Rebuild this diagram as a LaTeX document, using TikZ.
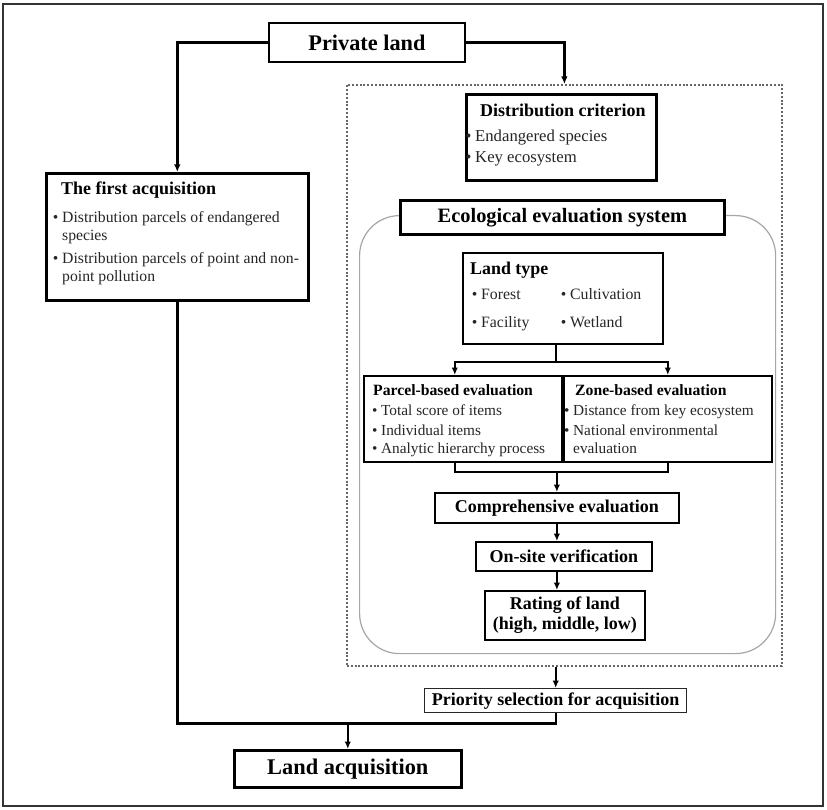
\documentclass[tikz,border=0pt]{standalone}
\usepackage{fontspec}
\setmainfont{Liberation Serif}
\usetikzlibrary{arrows.meta,calc}
\newcommand\fs[1]{\fontsize{#1}{#1}\selectfont}
\newcommand\bul{\llap{\textbullet\hspace{3.8pt}}}
\begin{document}
\begin{tikzpicture}[x=1pt,y=-1pt,
  box/.style={draw=black, line width=#1, fill=white, inner sep=0pt, anchor=north west},
  box/.default=2.6pt,
  txt/.style={inner sep=0pt, anchor=base west, text=black!85},
  conn/.style={line width=2.4pt, black},
  arr/.style={conn, -{Latex[length=7.5pt,width=6.5pt]}}]
\useasboundingbox (0,0) rectangle (827,810);
\draw[line width=2.8pt, black!80] (3,4) rectangle (823,806);

% containers
\node[draw=black!60, dash pattern=on 2pt off 1.8pt, line width=1.8pt, minimum width=435pt, minimum height=581pt, anchor=north west, inner sep=0pt] (dotbox) at (346,84) {};
\node[draw=black!35, line width=1.2pt, rounded corners=40pt, minimum width=416pt, minimum height=438pt, anchor=north west, inner sep=0pt] (rbox) at (359,215) {};

% boxes
\node[box, minimum width=196pt, minimum height=39pt, anchor=center] (pl) at (367,42.5) {\fs{22.3}\bfseries Private land};
\node[box, minimum width=262pt, minimum height=127pt] (fa) at (45,172) {};
\node[box, minimum width=190pt, minimum height=86pt] (dc) at (465,93) {};
\node[box=2.8pt, minimum width=324pt, minimum height=34pt] (eco) at (399,199) {\fs{20.4}\bfseries Ecological evaluation system};
\node[box=1.8pt, minimum width=200pt, minimum height=91pt] (lt) at (462,252) {};
\node[box=1.6pt, minimum width=198pt, minimum height=86pt] (pb) at (363,375) {};
\node[box=1.6pt, minimum width=208pt, minimum height=86pt] (zb) at (563,375) {};
\node[box=1.8pt, minimum width=244pt, minimum height=30pt] (ce) at (434,492) {\fs{18}\bfseries Comprehensive evaluation};
\node[box=1.8pt, minimum width=176pt, minimum height=29pt] (ov) at (475,541) {\fs{18}\bfseries On-site verification};
\node[box=1.8pt, minimum width=160pt, minimum height=49pt, align=center] (rl) at (484,590) {\fs{18}\bfseries Rating of land\\[3pt]\fs{18}\bfseries (high, middle, low)};
\node[box=1.4pt, draw=black!85, minimum width=262pt, minimum height=24pt] (ps) at (424,688) {\fs{18}\bfseries Priority selection for acquisition};
\node[box, minimum width=227pt, minimum height=37pt] (la) at (233,749) {\fs{22.4}\bfseries Land acquisition};

% first acquisition text
\node[txt, text=black] (fat) at (61,195) {\fs{18}\bfseries The first acquisition};
\node[txt] (fa1) at (62,223) {\fs{15.7}\bul Distribution parcels of endangered};
\node[txt] (fa2) at (62,241) {\fs{15.7}species};
\node[txt] (fa3) at (62,264) {\fs{15.7}\bul Distribution parcels of point and non-};
\node[txt] (fa4) at (62,282) {\fs{15.7}point pollution};

% distribution criterion text
\node[txt, text=black] (dct) at (480,117) {\fs{18}\bfseries Distribution criterion};
\node[txt] (dc1) at (475,142) {\fs{16.7}\bul Endangered species};
\node[txt] (dc2) at (475,163) {\fs{16.7}\bul Key ecosystem};

% land type text
\node[txt, text=black] (ltt) at (470,275) {\fs{17.9}\bfseries Land type};
\node[txt] (lt1) at (481,299) {\fs{15.8}\bul Forest};
\node[txt] (lt2) at (570,299) {\fs{15.8}\bul Cultivation};
\node[txt] (lt3) at (481,327) {\fs{15.8}\bul Facility};
\node[txt] (lt4) at (570,327) {\fs{15.8}\bul Wetland};

% parcel-based text
\node[txt, text=black] (pbt) at (373,395) {\fs{15.7}\bfseries Parcel-based evaluation};
\node[txt] (pb1) at (381,415) {\fs{15.3}\bul Total score of items};
\node[txt] (pb2) at (381,435) {\fs{15.3}\bul Individual items};
\node[txt] (pb3) at (381,453) {\fs{15.3}\bul Analytic hierarchy process};

% zone-based text
\node[txt, text=black] (zbt) at (575,395) {\fs{15.7}\bfseries Zone-based evaluation};
\node[txt] (zb1) at (573,415) {\fs{15.3}\bul Distance from key ecosystem};
\node[txt] (zb2) at (573,435) {\fs{15.3}\bul National environmental};
\node[txt] (zb3) at (573,453) {\fs{15.3}evaluation};

% connectors
\draw[arr] (pl.west) -| (fa.north);
\draw[arr] (pl.east) -| (dotbox.north);
\coordinate (ltj) at ($(lt.south)+(-7,17)$);
\draw[conn] ([xshift=-7pt]lt.south) -- (ltj);
\draw[arr] (ltj) -| ([xshift=-8pt]pb.north);
\draw[arr] (ltj) -| (zb.north);
\coordinate (pzj) at ($(ce.north)+(0,-20)$);
\draw[conn] ([xshift=-8pt]pb.south) |- (pzj) -| (zb.south);
\draw[arr] (pzj) -- (ce.north);
\draw[arr] (ce.south) -- (ce.south |- ov.north);
\draw[arr] (ce.south |- ov.south) -- (ce.south |- rl.north);
\draw[arr] (dotbox.south -| ps.north) -- (ps.north);
\coordinate (jl) at ($(fa.south |- ps.south)+(0,10)$);
\draw[conn] (fa.south) -- (jl) -- (jl -| ps.south) -- (ps.south);
\draw[arr] (jl -| la.north) -- (la.north);
\end{tikzpicture}
\end{document}
